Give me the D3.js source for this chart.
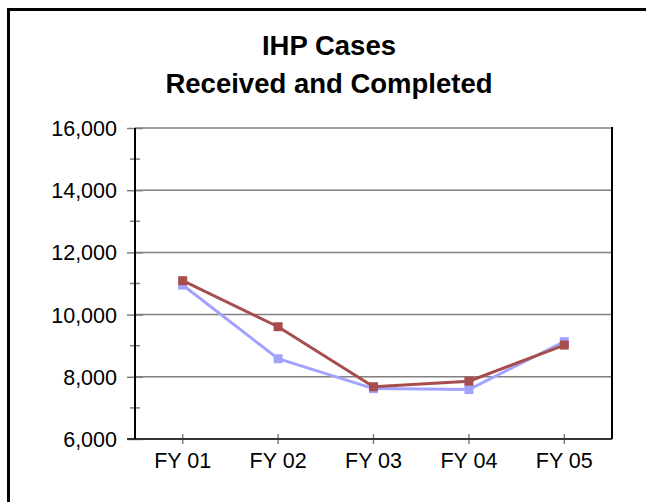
<!DOCTYPE html>
<html><head><meta charset="utf-8">
<script src="https://cdn.jsdelivr.net/npm/d3@7"></script>
<style>body{margin:0;background:#fff}svg{display:block}text{font-family:"Liberation Sans",Arial,sans-serif}</style>
</head><body>
<svg id="c" width="646" height="502"></svg>
<script>
const categories = ["FY 01","FY 02","FY 03","FY 04","FY 05"];
const received = [10950, 8580, 7620, 7590, 9130];
const completed = [11090, 9610, 7680, 7860, 9020];
const yTicks = [6000, 8000, 10000, 12000, 14000, 16000];
const yMinorTicks = [7000, 9000, 11000, 13000, 15000];
const titleLines = ["IHP Cases", "Received and Completed"];

const svg = d3.select("#c");
svg.append("rect").attr("x",8.5).attr("y",9.5).attr("width",700).attr("height",600)
  .attr("fill","none").attr("stroke","#000").attr("stroke-width",3);

const L=135, R=612, T=128, B=439;
const x = d3.scaleBand().domain(categories).range([L,R]);
const y = d3.scaleLinear().domain([6000,16000]).range([B,T]);

svg.selectAll(".t").data(titleLines).enter().append("text")
  .attr("x",329).attr("y",(d,i)=>55+i*38).attr("text-anchor","middle")
  .attr("font-weight","bold").attr("font-size",27.5).text(d=>d);

// gridlines
svg.append("g").selectAll("line").data(yTicks.filter(v=>v>6000)).enter().append("line")
  .attr("x1",L).attr("x2",R).attr("y1",d=>y(d)).attr("y2",d=>y(d))
  .attr("stroke","#808080").attr("stroke-width",1.5);

// y axis
const ya = svg.append("g").attr("transform",`translate(${L},0)`)
  .call(d3.axisLeft(y).tickValues(yTicks).tickFormat(d3.format(",")).tickSize(8).tickPadding(4));
ya.select(".domain").remove();
ya.selectAll(".tick line").attr("stroke","#808080").attr("stroke-width",1.5).attr("x2",-8).attr("x1",8);
ya.selectAll(".tick text").attr("font-size",21.5).attr("fill","#000").attr("font-family","Liberation Sans, Arial, sans-serif").attr("dy","0.35em").attr("x",-18);
svg.append("g").selectAll("line").data(yMinorTicks).enter().append("line")
  .attr("x1",L-5).attr("x2",L+5).attr("y1",d=>y(d)).attr("y2",d=>y(d))
  .attr("stroke","#808080").attr("stroke-width",1.5);

// x axis
const xa = svg.append("g").attr("transform",`translate(0,${B})`)
  .call(d3.axisBottom(x).tickSize(5).tickPadding(9));
xa.select(".domain").remove();
xa.selectAll(".tick line").attr("stroke","#808080").attr("stroke-width",1.5).attr("y1",-5).attr("y2",5);
xa.selectAll(".tick text").attr("font-size",21.5).attr("fill","#000").attr("font-family","Liberation Sans, Arial, sans-serif");

svg.append("line").attr("x1",L-8).attr("x2",R).attr("y1",B).attr("y2",B).attr("stroke","#333").attr("stroke-width",2);
svg.append("line").attr("x1",L).attr("x2",L).attr("y1",T).attr("y2",B).attr("stroke","#000").attr("stroke-width",2);
svg.append("line").attr("x1",R).attr("x2",R).attr("y1",T-1).attr("y2",B).attr("stroke","#000").attr("stroke-width",2);

const cx = d=>x(d)+x.bandwidth()/2;
function series(vals,color,sz){
  const g=svg.append("g");
  g.append("path").datum(vals).attr("fill","none").attr("stroke",color).attr("stroke-width",3)
    .attr("d",d3.line().x((d,i)=>cx(categories[i])).y(d=>y(d)));
  g.selectAll("rect").data(vals).enter().append("rect")
    .attr("x",(d,i)=>cx(categories[i])-sz/2).attr("y",d=>y(d)-sz/2)
    .attr("width",sz).attr("height",sz).attr("fill",color);
}
series(received,"#A3A3FF",9);
series(completed,"#A64D4D",9);
</script>
</body></html>
